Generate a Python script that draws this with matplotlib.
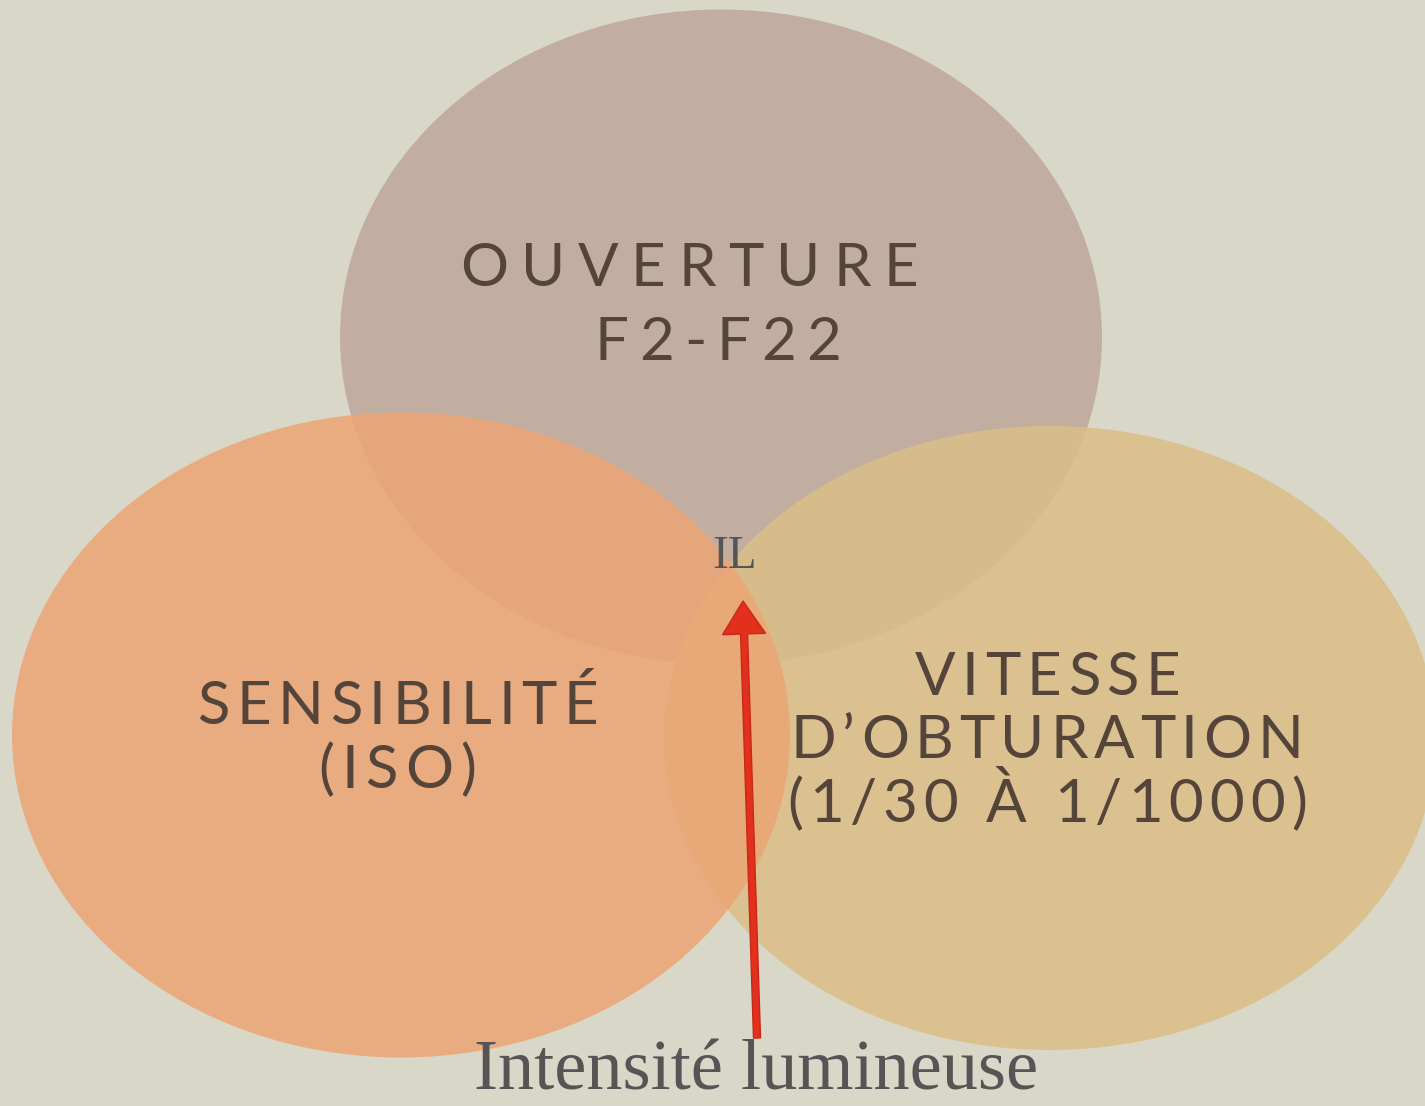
import matplotlib.pyplot as plt
from matplotlib.patches import Ellipse
from matplotlib.font_manager import FontProperties
from matplotlib.textpath import text_to_path

# circles of the diagram: (center x, center y, width, height) in pixel units
centers = [(721, 337), (401, 735), (1050, 738)]
widths = [762, 778, 772]
heights = [655, 645, 624]
colors = ["#bfa99c", "#eba676", "#dbbe88"]
draw_order = [0, 2, 1]

# text lines: string, left edge, right edge, baseline
lines = [
    ("OUVERTURE", 460, 918, 286),
    ("F2-F22", 595, 841, 360),
    ("SENSIBILITÉ", 197, 598, 724),
    ("(ISO)", 318, 476, 788),
    ("VITESSE", 915, 1180, 695),
    ("D’OBTURATION", 791, 1303, 758),
    ("(1/30 À 1/1000)", 787, 1307, 822),
]
center_label = "IL"
arrow_from = (757, 1038)
arrow_to = (743, 601)
axis_label = "Intensité lumineuse"

bg = "#d9d7c7"
txt = "#54443a"
px = 100 / 72  # pixels per point

fig = plt.figure(figsize=(14.25, 11.06), dpi=100)
fig.patch.set_facecolor(bg)
ax = fig.add_axes([0, 0, 1, 1])
ax.set_facecolor(bg)
ax.set_xlim(0, 1425)
ax.set_ylim(1106, 0)
ax.axis("off")

for i in draw_order:
    ax.add_patch(Ellipse(centers[i], widths[i], heights[i],
                         facecolor=colors[i], edgecolor="none", alpha=0.88))

# letter-spaced labels: place each glyph, spread to the measured width
em = 60  # font size in pixels
fp = FontProperties(family="Lato", size=em)
for s, left, right, base in lines:
    adv = [text_to_path.get_text_width_height_descent(c, fp, ismath=False)[0] for c in s]
    track = (right - left - sum(adv)) / (len(s) - 1)
    x = left
    for c, w in zip(s, adv):
        ax.text(x, base, c, ha="left", va="baseline", fontsize=em / px,
                family="Lato", color=txt)
        x += w + track

ax.text(735, 568, center_label, ha="center", va="baseline", fontsize=34,
        family="Liberation Serif", color="#555555")

ax.arrow(arrow_from[0], arrow_from[1],
         arrow_to[0] - arrow_from[0], arrow_to[1] - arrow_from[1],
         width=7, head_width=43, head_length=33, length_includes_head=True,
         facecolor="#e2301c", edgecolor="#c8281a", lw=1)

ax.text(756, 1090, axis_label, ha="center", va="baseline", fontsize=52,
        family="Liberation Serif", color="#555555")

fig.savefig("out.png", dpi=100, facecolor=bg)
